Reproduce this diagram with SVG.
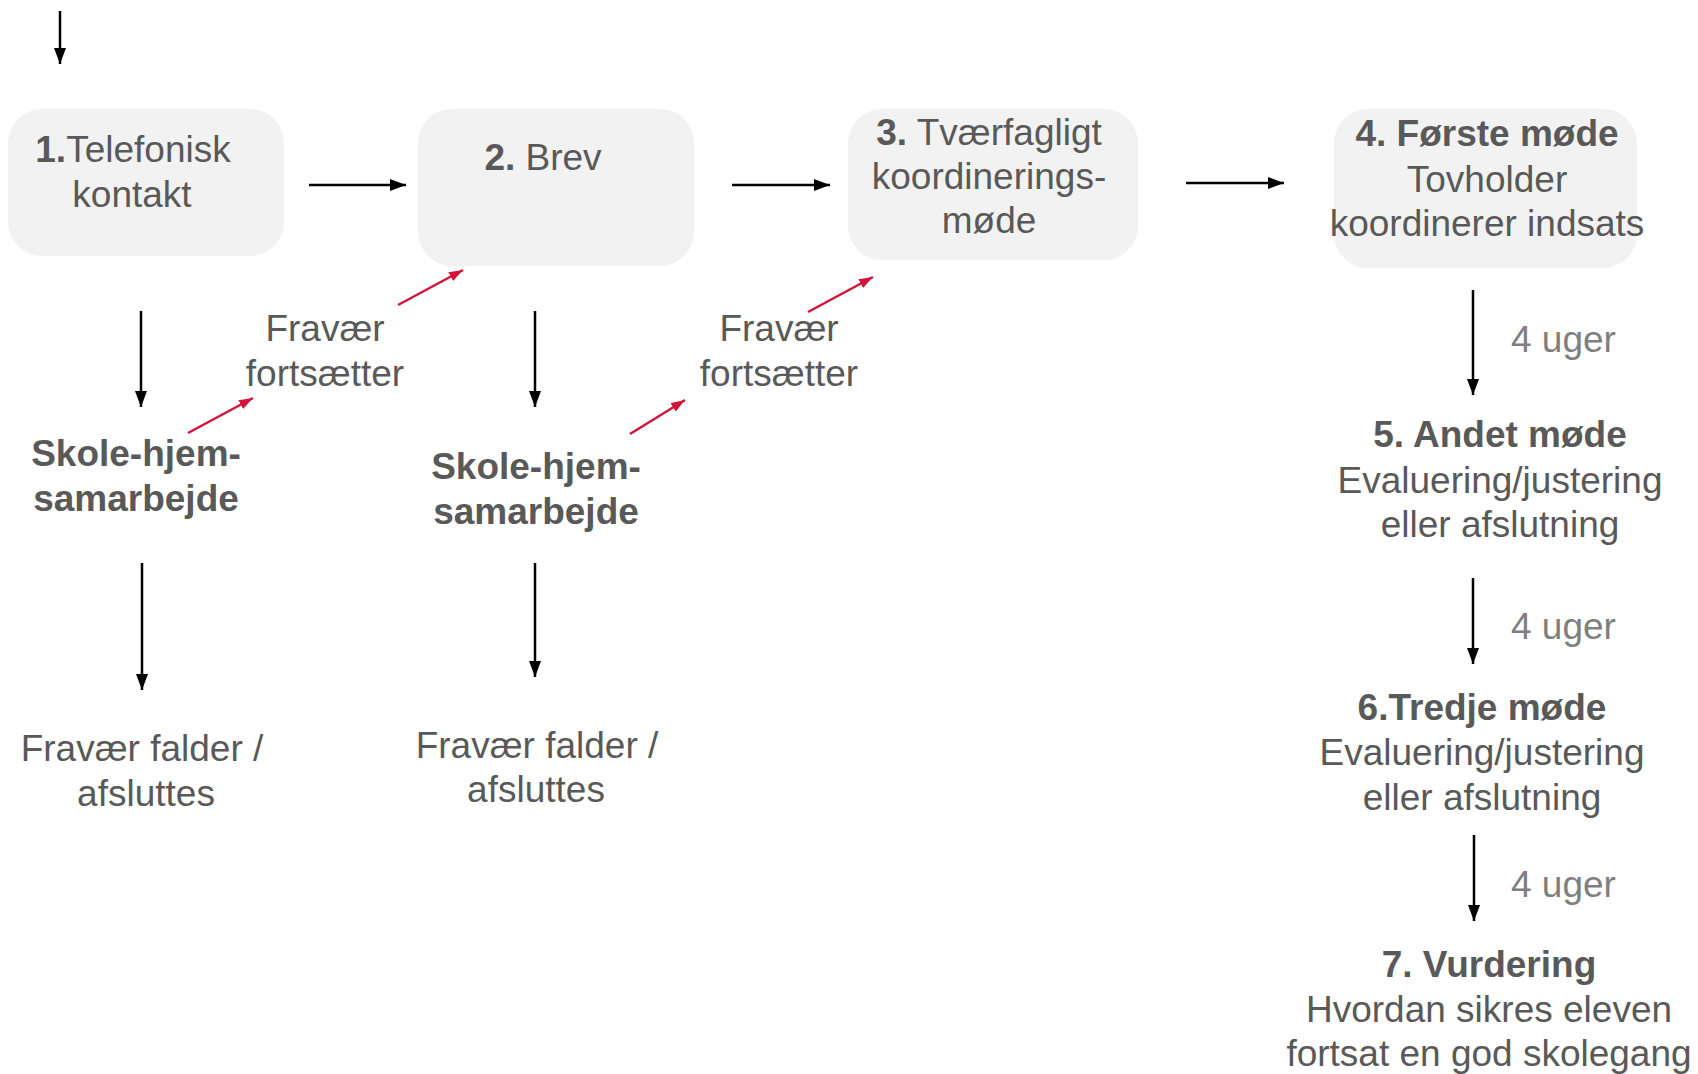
<svg xmlns="http://www.w3.org/2000/svg" width="1698" height="1074" viewBox="0 0 1698 1074">
<style>
text{font-family:"Liberation Sans",Arial,sans-serif;font-size:37px;fill:#595959;text-anchor:middle}
.b{font-weight:bold}
.g{fill:#7f7f7f;text-anchor:start}
.box{fill:#f2f2f2}
.k{stroke:#000;stroke-width:2.5;fill:none;marker-end:url(#ak)}
.r{stroke:#d3143a;stroke-width:2.5;fill:none;marker-end:url(#ar)}
</style>
<defs>
<marker id="ak" markerUnits="userSpaceOnUse" markerWidth="18" markerHeight="14" refX="16" refY="6" orient="auto"><path d="M0,0 L16,6 L0,12 z" fill="#000"/></marker>
<marker id="ar" markerUnits="userSpaceOnUse" markerWidth="16" markerHeight="12" refX="14" refY="5" orient="auto"><path d="M0,0 L14,5 L0,10 z" fill="#d3143a"/></marker>
</defs>
<rect width="1698" height="1074" fill="#fff"/>
<g id="n1"><rect class="box" x="8" y="109" width="276" height="147" rx="34"/>
<text x="133" y="162"><tspan class="b">1.</tspan>Telefonisk</text><text x="132" y="207">kontakt</text></g>
<g id="n2"><rect class="box" x="418" y="109" width="276" height="157" rx="34"/>
<text x="543" y="170"><tspan class="b">2.</tspan> Brev</text></g>
<g id="n3"><rect class="box" x="848" y="109" width="290" height="151" rx="34"/>
<text x="989" y="145"><tspan class="b">3.</tspan> Tværfagligt</text><text x="989" y="189">koordinerings-</text><text x="989" y="233">møde</text></g>
<g id="n4"><rect class="box" x="1334" y="109" width="303" height="159" rx="34"/>
<text class="b" x="1487" y="146">4. Første møde</text><text x="1487" y="192">Tovholder</text><text x="1487" y="236">koordinerer indsats</text></g>
<g id="s1"><text class="b" x="136" y="466">Skole-hjem-</text><text class="b" x="136" y="511">samarbejde</text></g>
<g id="s2"><text class="b" x="536" y="479">Skole-hjem-</text><text class="b" x="536" y="524">samarbejde</text></g>
<g id="f1"><text x="325" y="341">Fravær</text><text x="325" y="386">fortsætter</text></g>
<g id="f2"><text x="779" y="341">Fravær</text><text x="779" y="386">fortsætter</text></g>
<g id="e1"><text x="142" y="761">Fravær falder /</text><text x="146" y="806">afsluttes</text></g>
<g id="e2"><text x="537" y="758">Fravær falder /</text><text x="536" y="802">afsluttes</text></g>
<g id="n5"><text class="b" x="1500" y="447">5. Andet møde</text><text x="1500" y="493">Evaluering/justering</text><text x="1500" y="537">eller afslutning</text></g>
<g id="n6"><text class="b" x="1482" y="720">6.Tredje møde</text><text x="1482" y="765">Evaluering/justering</text><text x="1482" y="810">eller afslutning</text></g>
<g id="n7"><text class="b" x="1489" y="977">7. Vurdering</text><text x="1489" y="1022">Hvordan sikres eleven</text><text x="1489" y="1066">fortsat en god skolegang</text></g>
<g id="labels"><text class="g" x="1511" y="352">4 uger</text><text class="g" x="1511" y="639">4 uger</text><text class="g" x="1511" y="897">4 uger</text></g>
<g id="connectors">
<line class="k" x1="60" y1="11" x2="60" y2="64"/>
<line class="k" x1="309" y1="185" x2="406" y2="185"/>
<line class="k" x1="732" y1="185" x2="830" y2="185"/>
<line class="k" x1="1186" y1="183" x2="1284" y2="183"/>
<line class="k" x1="141" y1="311" x2="141" y2="407"/>
<line class="k" x1="142" y1="563" x2="142" y2="690"/>
<line class="k" x1="535" y1="311" x2="535" y2="407"/>
<line class="k" x1="535" y1="563" x2="535" y2="677"/>
<line class="k" x1="1473" y1="290" x2="1473" y2="395"/>
<line class="k" x1="1473" y1="578" x2="1473" y2="664"/>
<line class="k" x1="1474" y1="835" x2="1474" y2="921"/>
<line class="r" x1="188" y1="433" x2="253" y2="398"/>
<line class="r" x1="398" y1="305" x2="463" y2="270"/>
<line class="r" x1="630" y1="434" x2="685" y2="400"/>
<line class="r" x1="808" y1="312" x2="873" y2="277"/>
</g>
</svg>
